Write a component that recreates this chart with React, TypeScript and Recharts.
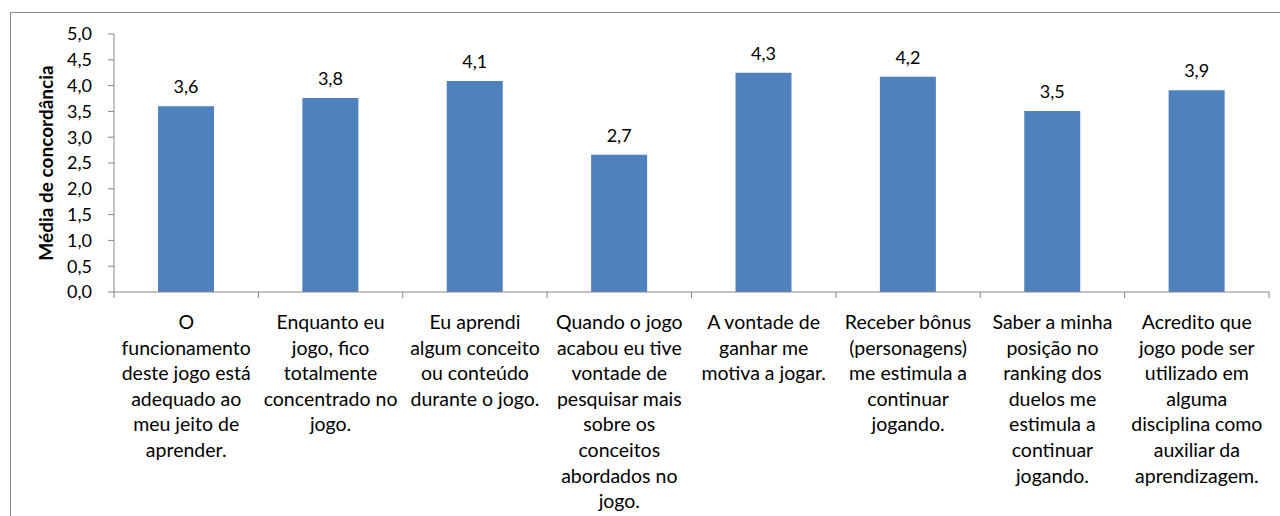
import { Bar, BarChart, LabelList, XAxis, YAxis } from "recharts";

const categories = [
  "O\nfuncionamento\ndeste jogo está\nadequado ao\nmeu jeito de\naprender.",
  "Enquanto eu\njogo, fico\ntotalmente\nconcentrado no\njogo.",
  "Eu aprendi\nalgum conceito\nou conteúdo\ndurante o jogo.",
  "Quando o jogo\nacabou eu tive\nvontade de\npesquisar mais\nsobre os\nconceitos\nabordados no\njogo.",
  "A vontade de\nganhar me\nmotiva a jogar.",
  "Receber bônus\n(personagens)\nme estimula  a\ncontinuar\njogando.",
  "Saber a minha\nposição no\nranking dos\nduelos me\nestimula a\ncontinuar\njogando.",
  "Acredito que\njogo pode ser\nutilizado em\nalguma\ndisciplina como\nauxiliar da\naprendizagem.",
];
const values = [3.6, 3.76, 4.09, 2.66, 4.25, 4.17, 3.51, 3.91];
const yTicks = [0, 0.5, 1, 1.5, 2, 2.5, 3, 3.5, 4, 4.5, 5];

const data = categories.map((c, i) => ({ name: c, value: values[i] }));

const FONT = "Lato, 'Open Sans', sans-serif";
const AXIS_GRAY = "#868686";
const fmt = (v: number) => v.toFixed(1).replace(".", ",");

// Excel-style category tick: tick marks sit between categories, label wraps below
function CategoryTick(props: any) {
  const { x, y, payload, index } = props;
  const half = payload?.offset ?? 72;
  const lines = String(payload.value).split("\n");
  return (
    <g>
      <line x1={x - half} x2={x - half} y1={y - 8} y2={y - 2} stroke={AXIS_GRAY} />
      {index === categories.length - 1 && (
        <line x1={x + half} x2={x + half} y1={y - 8} y2={y - 2} stroke={AXIS_GRAY} />
      )}
      <text x={x} y={y + 29} textAnchor="middle" fontSize={19.5} fontFamily={FONT} fill="#000">
        {lines.map((l, i) => (
          <tspan key={i} x={x} dy={i === 0 ? 0 : 25.6}>
            {l}
          </tspan>
        ))}
      </text>
    </g>
  );
}

export default function App() {
  return (
    <div style={{ position: "relative", width: 1280, height: 516, overflow: "hidden", background: "#fff" }}>
      <style>{`body{margin:0}`}</style>
      <div
        style={{
          position: "absolute",
          left: 10,
          top: 12,
          width: 1300,
          height: 600,
          border: "1px solid #898989",
        }}
      />
      <div style={{ position: "absolute", left: 0, top: 0 }}>
        <BarChart
          width={1280}
          height={516}
          data={data}
          margin={{ top: 34, right: 11, left: 0, bottom: 0 }}
        >
          <XAxis
            dataKey="name"
            height={224}
            interval={0}
            tickLine={false}
            axisLine={{ stroke: AXIS_GRAY }}
            tick={<CategoryTick />}
          />
          <YAxis
            width={114}
            domain={[0, 5]}
            ticks={yTicks}
            interval={0}
            tickFormatter={fmt}
            tickSize={6}
            tickMargin={16}
            tickLine={{ stroke: AXIS_GRAY }}
            axisLine={{ stroke: AXIS_GRAY }}
            tick={{ fontSize: 18, fontFamily: FONT, fill: "#000" }}
            label={{
              value: "Média de concordância",
              angle: -90,
              position: "insideLeft",
              offset: 46,
              style: { textAnchor: "middle", fontSize: 19, fontWeight: "bold", fontFamily: FONT, fill: "#000" },
            }}
          />
          <Bar dataKey="value" fill="#4F81BD" barSize={56} isAnimationActive={false}>
            <LabelList
              dataKey="value"
              position="top"
              offset={13}
              formatter={(v: any) => fmt(Number(v))}
              style={{ fontSize: 18, fontFamily: FONT, fill: "#000" }}
            />
          </Bar>
        </BarChart>
      </div>
    </div>
  );
}
